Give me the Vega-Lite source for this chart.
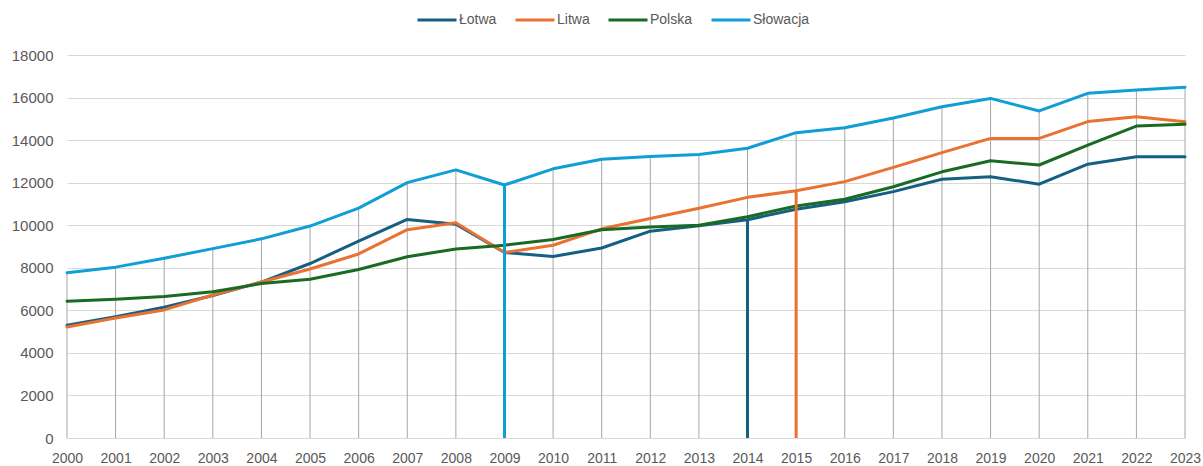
{
  "$schema": "https://vega.github.io/schema/vega-lite/v6.json",
  "width": 1118,
  "height": 383,
  "autosize": "none",
  "padding": {"left": 67, "top": 55, "right": 18, "bottom": 28},
  "background": "white",
  "config": {
    "view": {"stroke": null},
    "font": "Liberation Sans",
    "axis": {"labelFont": "Liberation Sans", "labelColor": "#595959"}
  },
  "data": {
    "values": [
      {"year": 2000, "country": "Łotwa", "value": 5300},
      {"year": 2001, "country": "Łotwa", "value": 5700},
      {"year": 2002, "country": "Łotwa", "value": 6150},
      {"year": 2003, "country": "Łotwa", "value": 6700},
      {"year": 2004, "country": "Łotwa", "value": 7330},
      {"year": 2005, "country": "Łotwa", "value": 8200},
      {"year": 2006, "country": "Łotwa", "value": 9250},
      {"year": 2007, "country": "Łotwa", "value": 10270},
      {"year": 2008, "country": "Łotwa", "value": 10050},
      {"year": 2009, "country": "Łotwa", "value": 8720},
      {"year": 2010, "country": "Łotwa", "value": 8530},
      {"year": 2011, "country": "Łotwa", "value": 8930},
      {"year": 2012, "country": "Łotwa", "value": 9720},
      {"year": 2013, "country": "Łotwa", "value": 9970},
      {"year": 2014, "country": "Łotwa", "value": 10260},
      {"year": 2015, "country": "Łotwa", "value": 10750},
      {"year": 2016, "country": "Łotwa", "value": 11100},
      {"year": 2017, "country": "Łotwa", "value": 11580},
      {"year": 2018, "country": "Łotwa", "value": 12160},
      {"year": 2019, "country": "Łotwa", "value": 12280},
      {"year": 2020, "country": "Łotwa", "value": 11930},
      {"year": 2021, "country": "Łotwa", "value": 12870},
      {"year": 2022, "country": "Łotwa", "value": 13220},
      {"year": 2023, "country": "Łotwa", "value": 13220},
      {"year": 2000, "country": "Litwa", "value": 5220},
      {"year": 2001, "country": "Litwa", "value": 5640},
      {"year": 2002, "country": "Litwa", "value": 6020},
      {"year": 2003, "country": "Litwa", "value": 6720},
      {"year": 2004, "country": "Litwa", "value": 7330},
      {"year": 2005, "country": "Litwa", "value": 7940},
      {"year": 2006, "country": "Litwa", "value": 8650},
      {"year": 2007, "country": "Litwa", "value": 9790},
      {"year": 2008, "country": "Litwa", "value": 10120},
      {"year": 2009, "country": "Litwa", "value": 8720},
      {"year": 2010, "country": "Litwa", "value": 9060},
      {"year": 2011, "country": "Litwa", "value": 9830},
      {"year": 2012, "country": "Litwa", "value": 10320},
      {"year": 2013, "country": "Litwa", "value": 10800},
      {"year": 2014, "country": "Litwa", "value": 11310},
      {"year": 2015, "country": "Litwa", "value": 11620},
      {"year": 2016, "country": "Litwa", "value": 12050},
      {"year": 2017, "country": "Litwa", "value": 12720},
      {"year": 2018, "country": "Litwa", "value": 13410},
      {"year": 2019, "country": "Litwa", "value": 14080},
      {"year": 2020, "country": "Litwa", "value": 14080},
      {"year": 2021, "country": "Litwa", "value": 14870},
      {"year": 2022, "country": "Litwa", "value": 15100},
      {"year": 2023, "country": "Litwa", "value": 14860},
      {"year": 2000, "country": "Polska", "value": 6430},
      {"year": 2001, "country": "Polska", "value": 6520},
      {"year": 2002, "country": "Polska", "value": 6650},
      {"year": 2003, "country": "Polska", "value": 6870},
      {"year": 2004, "country": "Polska", "value": 7260},
      {"year": 2005, "country": "Polska", "value": 7460},
      {"year": 2006, "country": "Polska", "value": 7920},
      {"year": 2007, "country": "Polska", "value": 8520},
      {"year": 2008, "country": "Polska", "value": 8880},
      {"year": 2009, "country": "Polska", "value": 9060},
      {"year": 2010, "country": "Polska", "value": 9330},
      {"year": 2011, "country": "Polska", "value": 9790},
      {"year": 2012, "country": "Polska", "value": 9920},
      {"year": 2013, "country": "Polska", "value": 10000},
      {"year": 2014, "country": "Polska", "value": 10400},
      {"year": 2015, "country": "Polska", "value": 10900},
      {"year": 2016, "country": "Polska", "value": 11220},
      {"year": 2017, "country": "Polska", "value": 11810},
      {"year": 2018, "country": "Polska", "value": 12510},
      {"year": 2019, "country": "Polska", "value": 13030},
      {"year": 2020, "country": "Polska", "value": 12830},
      {"year": 2021, "country": "Polska", "value": 13760},
      {"year": 2022, "country": "Polska", "value": 14660},
      {"year": 2023, "country": "Polska", "value": 14740},
      {"year": 2000, "country": "Słowacja", "value": 7770},
      {"year": 2001, "country": "Słowacja", "value": 8030},
      {"year": 2002, "country": "Słowacja", "value": 8450},
      {"year": 2003, "country": "Słowacja", "value": 8900},
      {"year": 2004, "country": "Słowacja", "value": 9360},
      {"year": 2005, "country": "Słowacja", "value": 9960},
      {"year": 2006, "country": "Słowacja", "value": 10800},
      {"year": 2007, "country": "Słowacja", "value": 12000},
      {"year": 2008, "country": "Słowacja", "value": 12600},
      {"year": 2009, "country": "Słowacja", "value": 11890},
      {"year": 2010, "country": "Słowacja", "value": 12650},
      {"year": 2011, "country": "Słowacja", "value": 13100},
      {"year": 2012, "country": "Słowacja", "value": 13230},
      {"year": 2013, "country": "Słowacja", "value": 13320},
      {"year": 2014, "country": "Słowacja", "value": 13620},
      {"year": 2015, "country": "Słowacja", "value": 14350},
      {"year": 2016, "country": "Słowacja", "value": 14580},
      {"year": 2017, "country": "Słowacja", "value": 15040},
      {"year": 2018, "country": "Słowacja", "value": 15570},
      {"year": 2019, "country": "Słowacja", "value": 15960},
      {"year": 2020, "country": "Słowacja", "value": 15370},
      {"year": 2021, "country": "Słowacja", "value": 16200},
      {"year": 2022, "country": "Słowacja", "value": 16360},
      {"year": 2023, "country": "Słowacja", "value": 16490}
    ]
  },
  "encoding": {
    "x": {
      "field": "year",
      "type": "quantitative",
      "scale": {"domain": [2000, 2023], "nice": false, "zero": false},
      "axis": {
        "title": null,
        "values": [2000,2001,2002,2003,2004,2005,2006,2007,2008,2009,2010,2011,2012,2013,2014,2015,2016,2017,2018,2019,2020,2021,2022,2023],
        "format": "d",
        "grid": false,
        "ticks": false,
        "domainColor": "#d9d9d9",
        "labelFontSize": 14,
        "labelPadding": 13,
        "labelFlush": false
      }
    }
  },
  "layer": [
    {
      "mark": {"type": "rule", "color": "#a6a6a6", "strokeWidth": 1},
      "transform": [{"filter": "datum.country === 'Słowacja'"}],
      "encoding": {
        "y": {
          "field": "value",
          "type": "quantitative",
          "scale": {"domain": [0, 18000], "nice": false},
          "axis": {
            "title": null,
            "values": [0,2000,4000,6000,8000,10000,12000,14000,16000,18000],
            "format": "d",
            "grid": true,
            "gridColor": "#d9d9d9",
            "domain": false,
            "ticks": false,
            "labelFontSize": 15,
            "labelPadding": 14
          }
        },
        "y2": {"datum": 0}
      }
    },
    {
      "mark": {"type": "line", "strokeWidth": 3, "strokeJoin": "round", "strokeCap": "round"},
      "encoding": {
        "y": {"field": "value", "type": "quantitative"},
        "color": {
          "field": "country",
          "type": "nominal",
          "scale": {"domain": ["Łotwa", "Litwa", "Polska", "Słowacja"], "range": ["#156082", "#E97132", "#196B24", "#0F9ED5"]},
          "legend": {
            "title": null,
            "orient": "none",
            "direction": "horizontal",
            "legendX": 349,
            "legendY": -56,
            "symbolType": "stroke",
            "symbolSize": 1521,
            "symbolStrokeWidth": 3,
            "labelFontSize": 14,
            "labelColor": "#595959",
            "labelFont": "Liberation Sans",
            "labelOffset": 1,
            "columnPadding": 12,
            "padding": 0
          }
        }
      }
    },
    {
      "mark": {"type": "rule", "strokeWidth": 3},
      "transform": [{"filter": "(datum.country === 'Słowacja' && datum.year === 2009) || (datum.country === 'Łotwa' && datum.year === 2014) || (datum.country === 'Litwa' && datum.year === 2015)"}],
      "encoding": {
        "y": {"field": "value", "type": "quantitative"},
        "y2": {"datum": 0},
        "color": {"field": "country", "type": "nominal", "legend": null}
      }
    }
  ]
}
